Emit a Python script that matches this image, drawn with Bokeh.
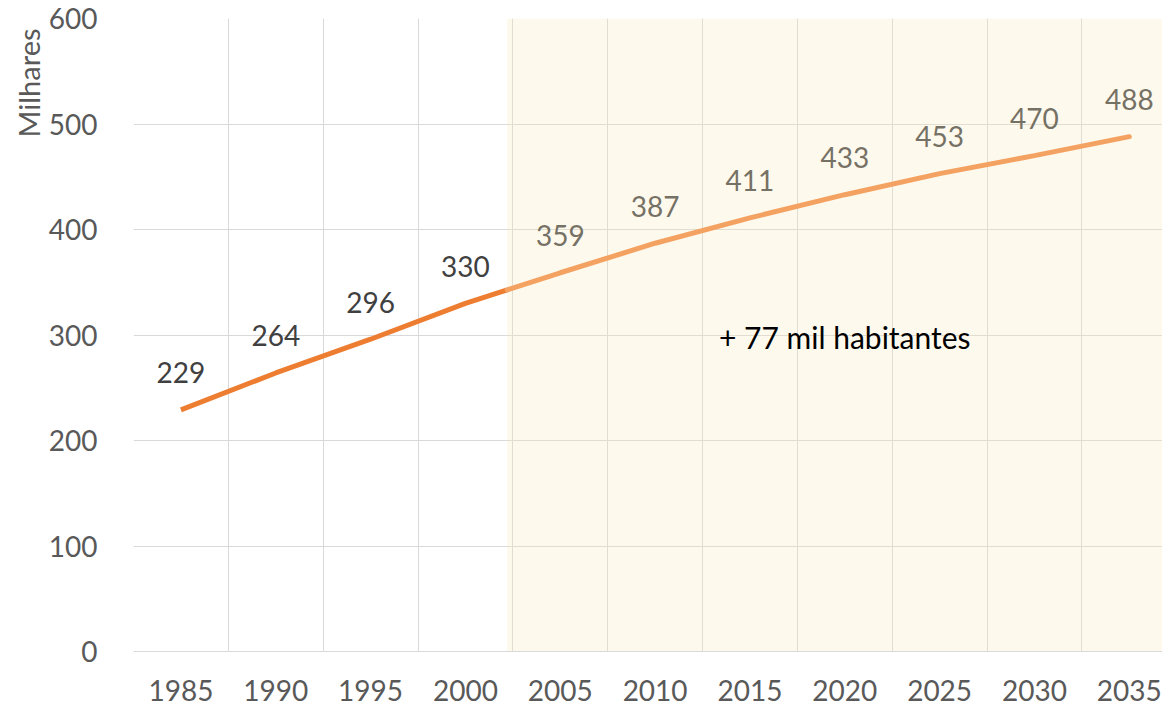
import numpy as np
from bokeh.plotting import figure
from bokeh.models import (FixedTicker, BoxAnnotation, Label, Title, ColumnDataSource, Range1d)
from bokeh.core.properties import value
from bokeh.embed import file_html
from bokeh.resources import INLINE

years = [1985, 1990, 1995, 2000, 2005, 2010, 2015, 2020, 2025, 2030, 2035]
population = [229, 264, 296, 330, 359, 387, 411, 433, 453, 470, 488]
n_hist = 4  # 1985-2000 observed, afterwards projection
y_ticks = [0, 100, 200, 300, 400, 500, 600]
annotation_text = "+ 77 mil habitantes"
axis_title = "Milhares"

FONT = "Lato"
split_x = 2002.2  # where the projection shading begins

p = figure(width=1162, height=708, output_backend="svg", toolbar_location=None,
           x_range=Range1d(1982.5, 2036.75), y_range=Range1d(0, 600),
           min_border_left=133, min_border_right=0, min_border_top=18, min_border_bottom=57)
p.outline_line_color = None
p.background_fill_color = "white"

# grid
step = years[1] - years[0]
p.xgrid.ticker = FixedTicker(ticks=[y + step / 2 for y in years[:-1]])
p.xgrid.grid_line_color = "#d9d9d9"
p.ygrid.ticker = FixedTicker(ticks=y_ticks)
p.ygrid.grid_line_color = "#d9d9d9"

# shading of projection period
shade = BoxAnnotation(left=split_x, fill_color="#FCEABE", fill_alpha=0.27,
                      line_color=None, level="underlay")
p.add_layout(shade)

# axes
p.xaxis.ticker = FixedTicker(ticks=years)
p.xaxis.major_label_overrides = {y: str(y) for y in years}
p.xaxis.major_tick_line_color = None
p.xaxis.minor_tick_line_color = None
p.xaxis.axis_line_color = "#d9d9d9"
p.xaxis.major_label_standoff = 22
p.xaxis.major_label_text_font = FONT
p.xaxis.major_label_text_font_size = "28px"
p.xaxis.major_label_text_color = "#595959"

p.yaxis.ticker = FixedTicker(ticks=y_ticks)
p.yaxis.major_tick_line_color = None
p.yaxis.minor_tick_line_color = None
p.yaxis.axis_line_color = None
p.yaxis.major_label_standoff = 30
p.yaxis.major_label_text_font = FONT
p.yaxis.major_label_text_font_size = "28px"
p.yaxis.major_label_text_color = "#595959"

p.add_layout(Title(text=axis_title, align="right", offset=10, standoff=0, text_font=FONT,
                   text_font_size="29px", text_font_style="normal",
                   text_color="#595959"), "left")

# lines
split_val = float(np.interp(split_x, years, population))
hx = years[:n_hist] + [split_x]
hy = population[:n_hist] + [split_val]
px = [split_x] + years[n_hist:]
py = [split_val] + population[n_hist:]
p.line(hx, hy, line_color="#ED7D31", line_width=5, line_cap="butt")
p.line(px, py, line_color="#F4A261", line_width=5, line_cap="round")

# data labels
src_h = ColumnDataSource(dict(x=years[:n_hist], y=population[:n_hist],
                              t=[str(v) for v in population[:n_hist]]))
src_p = ColumnDataSource(dict(x=years[n_hist:], y=population[n_hist:],
                              t=[str(v) for v in population[n_hist:]]))
for src, col in ((src_h, "#404040"), (src_p, "#767165")):
    p.text(x="x", y="y", text="t", source=src, text_font=value(FONT),
           text_font_size="28px", text_color=col, text_align="center",
           text_baseline="alphabetic", y_offset=-37)

p.add_layout(Label(x=2020, y=298.5, text=annotation_text, text_font=FONT,
                   text_font_size="30px", text_color="#000000", text_align="center",
                   text_baseline="alphabetic"))

open("out.html", "w").write(file_html(p, INLINE))
